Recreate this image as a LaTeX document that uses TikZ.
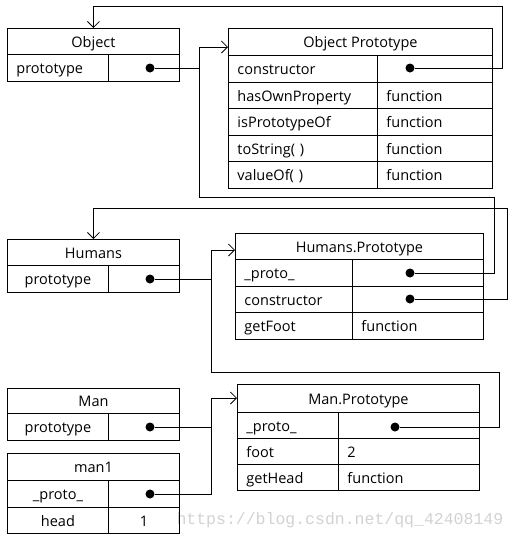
\documentclass[tikz,border=0pt]{standalone}
\usepackage{fontspec}
\setmainfont{Open Sans}
\newfontfamily\wmfont{Liberation Mono}
\usetikzlibrary{arrows.meta}
\tikzset{box/.style={draw, line width=0.9pt, inner sep=0pt, anchor=north west, text height=13pt, text depth=1pt, font=\fontsize{14.5}{16}\selectfont},
hdrbox/.style={box, minimum width=#1, minimum height=26.5pt},
lbox/.style={box, inner xsep=9pt, text width=#1, align=left, minimum height=26.5pt},
cbox/.style={box, minimum width=#1, minimum height=26.5pt},
dot/.style={circle, fill=black, inner sep=0pt, minimum size=9pt},
link/.style={line width=0.8pt},
arr/.style={link, -{Straight Barb[length=6pt,width=12pt]}}}

\begin{document}
\begin{tikzpicture}[x=1pt,y=-1pt]
\useasboundingbox (0,0) rectangle (515,539);
\node[anchor=west, text=gray!35, font=\wmfont\fontsize{16.5}{18}\selectfont] (wm) at (173,520) {https://blog.csdn.net/qq\_42408149};
% Object
\node[hdrbox=172, minimum height=26pt] (obj) at (7,28) {Object};
\node[lbox=83, minimum height=27pt] (objp) at (7,54) {prototype};
\node[cbox=71, minimum height=27pt] (objv) at (108,54) {};
% Object Prototype
\node[hdrbox=264, minimum height=27pt] (opt) at (228,28) {Object Prototype};
\node[lbox=131] (op1) at (228,55) {constructor};
\node[lbox=97] (op1v) at (377,55) {};
\node[lbox=131] (op2) at (228,81.5) {hasOwnProperty};
\node[lbox=97] (op2v) at (377,81.5) {function};
\node[lbox=131] (op3) at (228,108) {isPrototypeOf};
\node[lbox=97] (op3v) at (377,108) {function};
\node[lbox=131] (op4) at (228,134.5) {toString( )};
\node[lbox=97] (op4v) at (377,134.5) {function};
\node[lbox=131] (op5) at (228,161) {valueOf( )};
\node[lbox=97] (op5v) at (377,161) {function};
% Humans
\node[hdrbox=172, minimum height=26pt] (hum) at (7,239) {Humans};
\node[cbox=101, minimum height=27pt] (hump) at (7,265) {prototype};
\node[cbox=71, minimum height=27pt] (humv) at (108,265) {};
% Humans.Prototype
\node[hdrbox=248, minimum height=26pt] (hpt) at (235,233) {Humans.Prototype};
\node[lbox=99] (hp1) at (235,259) {\_proto\_};
\node[lbox=113] (hp1v) at (352,259) {};
\node[lbox=99] (hp2) at (235,285.5) {constructor};
\node[lbox=113] (hp2v) at (352,285.5) {};
\node[lbox=99] (hp3) at (235,312) {getFoot};
\node[lbox=113] (hp3v) at (352,312) {function};
% Man
\node[hdrbox=172, minimum height=25pt] (man) at (7,388) {Man};
\node[cbox=101, minimum height=27pt] (manp) at (7,413) {prototype};
\node[cbox=71, minimum height=27pt] (manv) at (108,413) {};
% man1
\node[hdrbox=172, minimum height=27pt] (mone) at (7,453) {man1};
\node[cbox=101] (mone1) at (7,480) {\_proto\_};
\node[cbox=71] (mone1v) at (108,480) {};
\node[cbox=101] (mone2) at (7,506.5) {head};
\node[cbox=71] (mone2v) at (108,506.5) {1};
% Man.Prototype
\node[hdrbox=242, minimum height=28pt] (mpt) at (237,384) {Man.Prototype};
\node[lbox=83, minimum height=26pt] (mp1) at (237,412) {\_proto\_};
\node[lbox=123, minimum height=26pt] (mp1v) at (338,412) {};
\node[lbox=83, minimum height=26pt] (mp2) at (237,438) {foot};
\node[lbox=123, minimum height=26pt] (mp2v) at (338,438) {2};
\node[lbox=83, minimum height=26pt] (mp3) at (237,464) {getHead};
\node[lbox=123, minimum height=26pt] (mp3v) at (338,464) {function};
% dots
\node[dot] (odot) at (150,68) {};
\node[dot] (ocdot) at (410,68) {};
\node[dot] (hdot) at (150,279) {};
\node[dot] (hpdot) at (410,273) {};
\node[dot] (hcdot) at (410,299) {};
\node[dot] (mdot) at (150,427) {};
\node[dot] (m1dot) at (150,494) {};
\node[dot] (mpdot) at (395,427) {};
% bends
\coordinate (a1) at (494,197);
\coordinate (a2) at (199,47);
\coordinate (a3) at (502,6);
\coordinate (a4) at (507,208);
\coordinate (a5) at (211,250);
\coordinate (a6) at (499,372);
\coordinate (a7) at (211,398);
% links
\draw[link] (odot) -- (odot -| a2);
\draw[arr] (hpdot) -| (a1) -| (a2) -- (a2 -| opt.west);
\draw[arr] (ocdot) -| (a3) -| (obj.north);
\draw[arr] (hcdot) -| (a4) -| (hum.north);
\draw[link] (hdot) -- (hdot -| a5);
\draw[arr] (mpdot) -| (a6) -| (a5) -- (a5 -| hpt.west);
\draw[link] (mdot) -- (mdot -| a7);
\draw[arr] (m1dot) -| (a7) -- (a7 -| mpt.west);
\end{tikzpicture}
\end{document}
